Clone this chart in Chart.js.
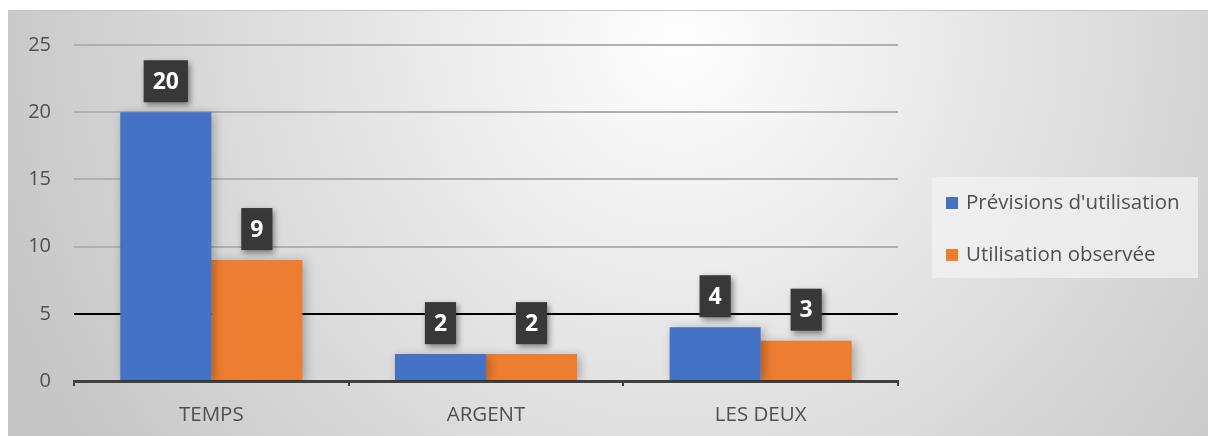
<!DOCTYPE html>
<html>
<head>
<meta charset="utf-8">
<script src="https://cdn.jsdelivr.net/npm/chart.js@4"></script>
<style>
  html, body { margin: 0; padding: 0; background: #fff; }
  #wrap { width: 1208px; height: 436px; }
</style>
</head>
<body>
<div id="wrap"><canvas id="myChart" width="1208" height="436"></canvas></div>
<script>
// data
const categories = ['TEMPS', 'ARGENT', 'LES DEUX'];
const previsions = [20, 2, 4];
const observee = [9, 2, 3];
const seriesNames = ["Prévisions d'utilisation", 'Utilisation observée'];
const yTicks = [0, 5, 10, 15, 20, 25];

const FONT = "'Open Sans', sans-serif";
const TEXT = '#505050';
const BLUE = '#4472c4';
const ORANGE = '#ed7d31';

// background: soft radial gray
const bgPlugin = {
  id: 'bgPlugin',
  beforeDraw: (chart) => {
    const ctx = chart.ctx;
    ctx.save();
    const g = ctx.createRadialGradient(680, 40, 0, 680, 40, 720);
    g.addColorStop(0, '#fefefe');
    g.addColorStop(1, '#c6c6c6');
    ctx.fillStyle = g;
    ctx.fillRect(8, 10, 1200, 426);
    ctx.strokeStyle = '#c4c4c4';
    ctx.lineWidth = 1;
    ctx.beginPath();
    ctx.moveTo(8, 10.5);
    ctx.lineTo(1208, 10.5);
    ctx.stroke();
    ctx.restore();
  }
};

// shadow under the bars
const barShadow = {
  id: 'barShadow',
  beforeDatasetsDraw: (chart) => {
    const ctx = chart.ctx;
    ctx.save();
    ctx.shadowColor = 'rgba(0,0,0,0.28)';
    ctx.shadowBlur = 10;
    ctx.shadowOffsetX = 3;
    ctx.shadowOffsetY = 2;
  },
  afterDatasetsDraw: (chart) => {
    chart.ctx.restore();
  }
};

// dark boxed value labels
const valueBoxes = {
  id: 'valueBoxes',
  afterDatasetsDraw: (chart) => {
    const ctx = chart.ctx;
    ctx.save();
    ctx.font = "bold 23px " + FONT;
    ctx.textAlign = 'center';
    ctx.textBaseline = 'middle';
    chart.data.datasets.forEach((ds, i) => {
      chart.getDatasetMeta(i).data.forEach((bar, j) => {
        const txt = String(ds.data[j]);
        const w = ctx.measureText(txt).width + 18;
        const h = 42;
        const x = bar.x - w / 2;
        const y = bar.y - 10 - h;
        ctx.save();
        ctx.shadowColor = 'rgba(0,0,0,0.45)';
        ctx.shadowBlur = 6;
        ctx.shadowOffsetX = 2;
        ctx.shadowOffsetY = 3;
        ctx.fillStyle = '#383838';
        ctx.fillRect(x, y, w, h);
        ctx.restore();
        ctx.fillStyle = '#ffffff';
        ctx.fillText(txt, bar.x, y + h / 2 + 1);
      });
    });
    ctx.restore();
  }
};

// legend box on the right
const sideLegend = {
  id: 'sideLegend',
  afterDraw: (chart) => {
    const ctx = chart.ctx;
    ctx.save();
    ctx.fillStyle = 'rgba(242,242,242,0.75)';
    ctx.fillRect(932, 177, 266, 101);
    const colors = [BLUE, ORANGE];
    const ys = [203, 255];
    ctx.font = "20.5px " + FONT;
    ctx.textBaseline = 'middle';
    ctx.textAlign = 'left';
    seriesNames.forEach((name, i) => {
      ctx.fillStyle = colors[i];
      ctx.fillRect(946, ys[i] - 6, 12, 12);
      ctx.fillStyle = TEXT;
      ctx.fillText(name, 966, ys[i]);
    });
    ctx.restore();
  }
};

const data = {
  labels: categories,
  datasets: [
    { label: seriesNames[0], data: previsions, backgroundColor: BLUE, borderWidth: 0 },
    { label: seriesNames[1], data: observee, backgroundColor: ORANGE, borderWidth: 0 }
  ]
};

const config = {
  type: 'bar',
  data: data,
  options: {
    responsive: false,
    animation: false,
    layout: { padding: { top: 45, left: 8, right: 310, bottom: 0 } },
    datasets: { bar: { barPercentage: 1, categoryPercentage: 0.663 } },
    scales: {
      x: {
        afterFit: (s) => { s.height = 55; },
        grid: { display: true, drawOnChartArea: false, offset: true, tickLength: 5, color: '#404040', lineWidth: 2 },
        border: { display: true, color: '#404040', width: 3 },
        ticks: { color: TEXT, font: { family: FONT, size: 20.5 }, padding: 17 }
      },
      y: {
        min: 0, max: 25,
        afterFit: (s) => { s.width = 66; },
        afterBuildTicks: (s) => { s.ticks = yTicks.map(v => ({ value: v })); },
        grid: {
          drawTicks: false,
          lineWidth: 2,
          color: (c) => c.tick && c.tick.value === 5 ? '#000000' : '#b0b0b0'
        },
        border: { display: false },
        ticks: { color: TEXT, font: { family: FONT, size: 20 }, padding: 23 }
      }
    },
    plugins: {
      legend: { display: false },
      tooltip: { enabled: false }
    }
  },
  plugins: [bgPlugin, barShadow, valueBoxes, sideLegend]
};

const myChart = new Chart(document.getElementById('myChart'), config);
</script>
</body>
</html>
